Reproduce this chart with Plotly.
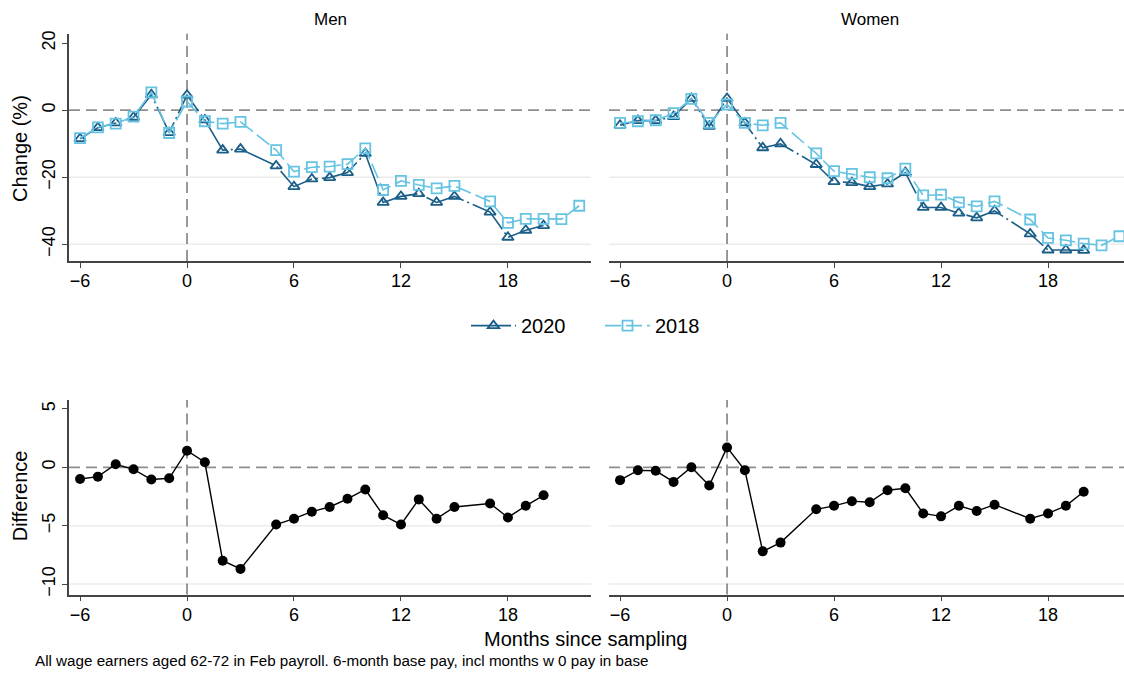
import plotly.graph_objects as go

# ---------------- data ----------------
months_2018 = [-6, -5, -4, -3, -2, -1, 0, 1, 2, 3, 5, 6, 7, 8, 9, 10, 11, 12, 13, 14, 15, 17, 18, 19, 20, 21, 22]
months_2020 = [-6, -5, -4, -3, -2, -1, 0, 1, 2, 3, 5, 6, 7, 8, 9, 10, 11, 12, 13, 14, 15, 17, 18, 19, 20]

men_2020 = [-8.5, -5.2, -3.8, -2.1, 4.6, -6.7, 4.5, -2.9, -11.9, -11.6, -16.6, -22.8, -20.5, -20.1, -18.6,
            -12.9, -27.5, -25.7, -24.9, -27.5, -25.7, -30.4, -37.9, -35.8, -34.4]
men_2018 = [-8.3, -5.1, -4.0, -1.9, 5.3, -6.8, 2.6, -3.3, -4.0, -3.5, -11.9, -18.3, -17.0, -16.8, -16.1,
            -11.4, -23.8, -21.1, -22.3, -23.3, -22.6, -27.2, -33.6, -32.4, -32.4, -32.5, -28.5]
women_2020 = [-4.5, -3.1, -3.1, -1.9, 3.5, -4.8, 3.5, -3.8, -11.2, -10.0, -16.2, -21.3, -21.6, -22.8, -22.0,
              -18.6, -29.0, -29.0, -30.7, -32.1, -30.0, -36.9, -41.7, -41.7, -41.8]
women_2018 = [-3.8, -3.3, -3.0, -0.9, 3.4, -3.8, 1.7, -3.8, -4.5, -3.8, -12.9, -18.2, -19.0, -20.0, -20.3,
              -17.4, -25.4, -25.2, -27.5, -28.7, -27.2, -32.6, -38.1, -38.8, -39.8, -40.3, -37.6]

diff_men = [-1.0, -0.8, 0.26, -0.17, -1.05, -0.94, 1.42, 0.43, -8.0, -8.7, -4.9, -4.4, -3.8, -3.4, -2.7,
            -1.9, -4.1, -4.9, -2.75, -4.4, -3.4, -3.1, -4.3, -3.3, -2.4]
diff_women = [-1.1, -0.26, -0.3, -1.25, 0.0, -1.56, 1.7, -0.26, -7.2, -6.45, -3.6, -3.3, -2.9, -3.0, -1.96,
              -1.8, -3.95, -4.2, -3.3, -3.75, -3.2, -4.4, -3.95, -3.3, -2.1]

x_ticks = [-6, 0, 6, 12, 18]
top_y_ticks = [20, 0, -20, -40]
bot_y_ticks = [5, 0, -5, -10]
top_grid = [-20, -40]
bot_grid = [-5, -10]

panel_titles = ["Men", "Women"]
y_title_top = "Change (%)"
y_title_bot = "Difference"
x_title = "Months since sampling"
footer = "All wage earners aged 62-72 in Feb payroll. 6-month base pay, incl months w 0 pay in base"

# ---------------- style ----------------
W, H = 1124, 674
FONT = "Liberation Sans, Arial, sans-serif"
C2020 = "#1b5e88"
C2018 = "#66c3e2"
AXC = "#444444"
REFC = "#8e8e8e"
GRIDC = "#ececec"


def px_x(p):
    return p / W


def px_y(p):
    return (H - p) / H


dom_left = [px_x(69), px_x(591)]
dom_right = [px_x(609), 1.0]
dom_top = [px_y(260), px_y(31)]
dom_bot = [px_y(596), px_y(400)]

xr_left = [-6.62, 22.66]
xr_right = [-6.62, 22.26]
yr_top = [-45.0, 22.8]
yr_bot = [-10.9, 5.76]

fig = go.Figure()

panels = [
    ("x", "y", men_2020, men_2018),
    ("x2", "y2", women_2020, women_2018),
]

for i, (xa, ya, s20, s18) in enumerate(panels):
    fig.add_trace(go.Scatter(
        x=months_2020, y=s20, xaxis=xa, yaxis=ya, mode="lines+markers", name="2020",
        legendgroup="2020", showlegend=(i == 0),
        line=dict(color=C2020, width=1.6, dash="40px,4px,2px,4px"),
        marker=dict(symbol="triangle-up-open", size=10, color=C2020, line=dict(width=1.8, color=C2020)),
        cliponaxis=False,
    ))
    fig.add_trace(go.Scatter(
        x=months_2018, y=s18, xaxis=xa, yaxis=ya, mode="lines+markers", name="2018",
        legendgroup="2018", showlegend=(i == 0),
        line=dict(color=C2018, width=1.6, dash="16px,5px"),
        marker=dict(symbol="square-open", size=10, color=C2018, line=dict(width=1.8, color=C2018)),
        cliponaxis=False,
    ))

for xa, ya, d in [("x3", "y3", diff_men), ("x4", "y4", diff_women)]:
    fig.add_trace(go.Scatter(
        x=months_2020, y=d, xaxis=xa, yaxis=ya, mode="lines+markers", showlegend=False,
        line=dict(color="black", width=1.4),
        marker=dict(symbol="circle", size=10, color="black"),
    ))

tickfont = dict(family=FONT, size=18, color="black")

common_x = dict(tickvals=x_ticks, ticks="outside", ticklen=5, tickwidth=1.3, tickcolor=AXC,
                showline=True, linecolor=AXC, linewidth=1.5, showgrid=False, zeroline=False,
                tickfont=tickfont, ticklabelstandoff=-2)
common_y = dict(ticks="outside", ticklen=5, tickwidth=1.3, tickcolor=AXC, showgrid=False,
                zeroline=False, tickfont=tickfont, tickangle=-90)

fig.update_layout(
    xaxis=dict(domain=dom_left, range=xr_left, anchor="y", **common_x),
    xaxis2=dict(domain=dom_right, range=xr_right, anchor="y2", **common_x),
    xaxis3=dict(domain=dom_left, range=xr_left, anchor="y3", **common_x),
    xaxis4=dict(domain=dom_right, range=xr_right, anchor="y4", **common_x),
    yaxis=dict(domain=dom_top, range=yr_top, anchor="x", tickvals=top_y_ticks,
               showline=True, linecolor=AXC, linewidth=1.5, **common_y),
    yaxis2=dict(domain=dom_top, range=yr_top, anchor="x2", showticklabels=False,
                showline=False, zeroline=False, showgrid=False, ticks=""),
    yaxis3=dict(domain=dom_bot, range=yr_bot, anchor="x3", tickvals=bot_y_ticks,
                showline=True, linecolor=AXC, linewidth=1.5, **common_y),
    yaxis4=dict(domain=dom_bot, range=yr_bot, anchor="x4", showticklabels=False,
                showline=False, zeroline=False, showgrid=False, ticks=""),
)

shapes = []
for xa, ya, grid in [("x", "y", top_grid), ("x2", "y2", top_grid), ("x3", "y3", bot_grid), ("x4", "y4", bot_grid)]:
    for g in grid:
        shapes.append(dict(type="line", xref=f"{xa} domain", yref=ya, x0=0, x1=1, y0=g, y1=g,
                           line=dict(color=GRIDC, width=1.5), layer="below"))
    shapes.append(dict(type="line", xref=f"{xa} domain", yref=ya, x0=0, x1=1, y0=0, y1=0,
                       line=dict(color=REFC, width=1.8, dash="11px,6px"), layer="below"))
    shapes.append(dict(type="line", xref=xa, yref=f"{ya} domain", x0=0, x1=0, y0=0, y1=1,
                       line=dict(color=REFC, width=1.8, dash="11px,6px"), layer="below"))

annotations = [
    dict(text=panel_titles[0], x=px_x(330), y=px_y(17), xref="paper", yref="paper", showarrow=False,
         font=dict(family=FONT, size=17, color="black"), xanchor="center", yanchor="middle"),
    dict(text=panel_titles[1], x=px_x(870), y=px_y(17), xref="paper", yref="paper", showarrow=False,
         font=dict(family=FONT, size=17, color="black"), xanchor="center", yanchor="middle"),
    dict(text=y_title_top, x=px_x(20), y=px_y(147), xref="paper", yref="paper", showarrow=False,
         textangle=-90, font=dict(family=FONT, size=20, color="black"), xanchor="center", yanchor="middle"),
    dict(text=y_title_bot, x=px_x(20), y=px_y(497), xref="paper", yref="paper", showarrow=False,
         textangle=-90, font=dict(family=FONT, size=20, color="black"), xanchor="center", yanchor="middle"),
    dict(text=x_title, x=px_x(585), y=px_y(641), xref="paper", yref="paper", showarrow=False,
         font=dict(family=FONT, size=20, color="black"), xanchor="center", yanchor="middle"),
    dict(text=footer, x=px_x(33), y=px_y(662), xref="paper", yref="paper", showarrow=False,
         font=dict(family=FONT, size=15.2, color="black"), xanchor="left", yanchor="middle"),
]

fig.update_layout(
    width=W, height=H,
    margin=dict(l=0, r=0, t=0, b=0),
    paper_bgcolor="white", plot_bgcolor="white",
    shapes=shapes, annotations=annotations,
    font=dict(family=FONT, color="black"),
    showlegend=True,
    legend=dict(orientation="h", x=px_x(600), y=px_y(325), xanchor="center", yanchor="middle",
                font=dict(family=FONT, size=20, color="black"), itemwidth=45,
                entrywidth=74, entrywidthmode="pixels",
                bgcolor="rgba(0,0,0,0)", traceorder="normal"),
)

fig.write_html("out.html", config={"displayModeBar": False},
               post_script="document.body.style.margin='0';document.body.style.overflow='hidden';")
